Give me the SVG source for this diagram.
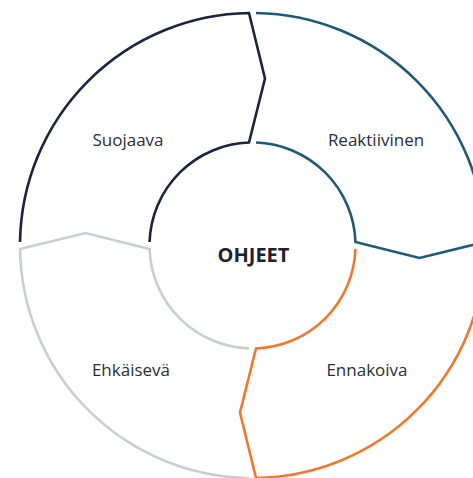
<svg xmlns="http://www.w3.org/2000/svg" width="473" height="478" viewBox="0 0 473 478">
<style>
.seg{fill:none;stroke-width:2.6;stroke-linejoin:miter}
.lbl{font-family:"Open Sans","Noto Sans","Liberation Sans",sans-serif;font-size:17px;fill:#2a2e37;text-anchor:middle}
.ctr{font-family:"Open Sans","Noto Sans","Liberation Sans",sans-serif;font-size:20px;font-weight:bold;fill:#1b2233;text-anchor:middle}
</style>
<rect width="473" height="478" fill="#ffffff"/>
<g id="connectors"></g>
<g id="suojaava">
<path class="seg" stroke="#1c2340" d="M 20.03 242 A 232.5 232.5 0 0 1 249 13.03 L 265 78.5 L 249 142.56 A 103 103 0 0 0 149.56 242"/>
<text class="lbl" x="128" y="146">Suojaava</text>
</g>
<g id="reaktiivinen">
<path class="seg" stroke="#1e5a78" d="M 256 13.03 A 232.5 232.5 0 0 1 484.97 242 L 419.5 258 L 355.44 242 A 103 103 0 0 0 256 142.56"/>
<text class="lbl" x="376" y="146">Reaktiivinen</text>
</g>
<g id="ennakoiva">
<path class="seg" stroke="#f0782a" d="M 484.97 249 A 232.5 232.5 0 0 1 256 477.97 L 240 412.5 L 256 348.44 A 103 103 0 0 0 355.44 249"/>
<text class="lbl" x="367" y="376">Ennakoiva</text>
</g>
<g id="ehkaiseva">
<path class="seg" stroke="#c9ced3" d="M 249 477.97 A 232.5 232.5 0 0 1 20.03 249 L 85.5 233 L 149.56 249 A 103 103 0 0 0 249 348.44"/>
<text class="lbl" x="131" y="376">Ehkäisevä</text>
</g>
<g id="ohjeet">
<text class="ctr" x="253.5" y="261.5">OHJEET</text>
</g>
</svg>
